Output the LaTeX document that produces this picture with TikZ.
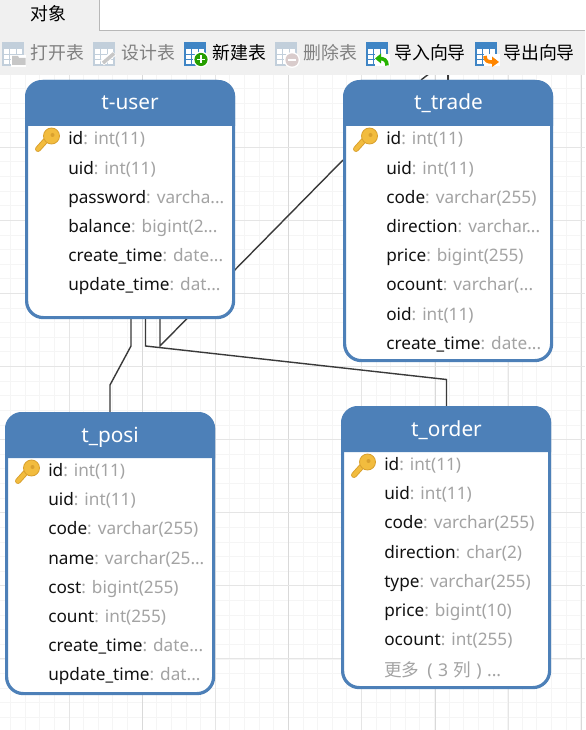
\documentclass[tikz,border=0pt]{standalone}
\usepackage{fontspec}
\setmainfont{Noto Sans}
\newfontfamily\cjk{Noto Sans CJK SC}
\usetikzlibrary{calc}
\pgfdeclarelayer{gridlayer}
\pgfdeclarelayer{connlayer}
\pgfsetlayers{gridlayer,connlayer,main}
\definecolor{hdr}{HTML}{4D80B8}
\definecolor{fieldtxt}{HTML}{111111}
\definecolor{typetxt}{HTML}{A3A3A3}
\definecolor{tool}{HTML}{F0F0F0}
\definecolor{conncol}{HTML}{3A3A3A}
\definecolor{gold}{HTML}{F2BC3E}
\definecolor{goldd}{HTML}{D9A02E}
\definecolor{iconon}{HTML}{3F85C5}
\definecolor{iconoff}{HTML}{C2CFDB}
\newcommand{\dd}{.{}.{}.}
\tikzset{
  x=0.75pt,y=-0.75pt,
  tablebox/.style={draw=hdr,line width=2.4pt,rounded corners=12.5pt,fill=white,inner sep=0pt,anchor=north west},
  headtxt/.style={text=white,font=\fontsize{15.6pt}{17pt}\selectfont,inner sep=0pt,anchor=base},
  fieldrow/.style={text=fieldtxt,font=\fontsize{12.9pt}{15pt}\selectfont,inner sep=0pt,anchor=base west},
  toollabel/.style={font=\fontsize{13.4pt}{15pt}\selectfont\cjk,inner sep=0pt,anchor=base west},
  connline/.style={draw=conncol,line width=1.05pt,line join=miter},
  minorgrid/.style={draw=black!4,line width=0.75pt},
  midgrid/.style={draw=black!10,line width=0.75pt},
  majorgrid/.style={draw=black!15,line width=0.75pt},
  pics/keyicon/.style={code={
    \draw[goldd,line width=4.4pt,line cap=round] (-7,8) -- (2,-2);
    \draw[gold,line width=3pt,line cap=round] (-7,8) -- (2,-2);
    \fill[gold,draw=goldd,line width=0.6pt] (6.5,-5) circle (8);
    \fill[goldd] (7.5,-6) circle (2);
  }},
  pics/tableicon/.style={code={
    \draw[#1,line width=0.8pt,fill=white] (0,0) rectangle (20,22);
    \fill[#1] (-0.5,0) rectangle (20.5,6);
    \draw[#1,line width=0.8pt] (0,11.3) -- (20,11.3) (0,16.6) -- (20,16.6) (6.7,6) -- (6.7,22) (13.4,6) -- (13.4,22);
  }},
}
\newcommand{\fieldrows}[4]{%
  \foreach \fname/\ftype [count=\ri from 0] in {#4} {
    \node[fieldrow] (#1-\ri) at (#2,{#3+\ri*29.2}) {\fname\textcolor{typetxt}{: \ftype}};
  }%
}
\begin{document}
\begin{tikzpicture}
\useasboundingbox (0,0) rectangle (585,730);
% grid
\begin{pgfonlayer}{gridlayer}
\fill[white] (0,0) rectangle (585,730);
\foreach \gx in {0,...,40} \draw[minorgrid] ({-4+\gx*14.62},75) -- ({-4+\gx*14.62},730);
\foreach \gy in {0,...,46} \draw[minorgrid] (0,{74.2+\gy*14.62}) -- (585,{74.2+\gy*14.62});
\foreach \gx in {69,215,361.5,508} \draw[midgrid] (\gx,75) -- (\gx,730);
\foreach \gx in {142.3,288.5,435,581.5} \draw[majorgrid] (\gx,75) -- (\gx,730);
\foreach \gy in {147.3,220.4,293.5,366.6,439.7,512.8,585.9,658.6} \draw[midgrid] (0,\gy) -- (585,\gy);
\end{pgfonlayer}
% toolbar
\fill[tool] (0,30.5) rectangle (585,75);
\fill[tool] (0,0) rectangle (99,31);
\draw[black!28,line width=0.75pt] (99.4,0) -- (99.4,30.5) -- (585,30.5);
\node[toollabel,anchor=center] (tabobj) at (48.5,13.5) {对象};
% icons
\pic at (3,43) {tableicon=iconoff};
\fill[white] (11,55) rectangle (26,67);
\fill[black!22] (12,56) -- (18,56) -- (19,58) -- (25.5,58) -- (25.5,65) -- (12,65) -- cycle;
\pic at (94,43) {tableicon=iconoff};
\draw[white,line width=4.6pt] (102,63) -- (114,53);
\draw[black!22,line width=2.6pt] (103,63) -- (114,53.5);
\pic at (185,43) {tableicon=iconon};
\fill[white] (201,59.5) circle (8);
\fill[green!55!black!85!yellow] (201,59.5) circle (6.6);
\draw[white,line width=1.2pt] (197,59.5) -- (205,59.5) (201,55.5) -- (201,63.5);
\pic at (276,43) {tableicon=iconoff};
\fill[white] (292,60) circle (8);
\fill[red!25!black!20!white] (292,60) circle (6.6);
\draw[white,line width=1.2pt] (288,60) -- (296,60);
\pic at (367,43) {tableicon=iconon};
\fill[white] (375,54) rectangle (390,66);
\draw[green!65!black!85!yellow,line width=2.7pt] (387,65.5) .. controls (387,60) and (384,58.5) .. (379,58.5);
\fill[green!65!black!85!yellow] (375,58.5) -- (381,53.5) -- (381,63.5) -- cycle;
\pic at (476,43) {tableicon=iconon};
\fill[white] (484,54) rectangle (500,66);
\draw[orange!95!yellow,line width=2.7pt] (485,56) .. controls (485,61) and (488,62) .. (492,62);
\fill[orange!95!yellow] (499,62) -- (492,56.5) -- (492,67) -- cycle;
% toolbar labels
\node[toollabel,text=black!50] (topen) at (30,60) {打开表};
\node[toollabel,text=black!50] (tdes) at (121,60) {设计表};
\node[toollabel,text=black] (tnew) at (212,60) {新建表};
\node[toollabel,text=black!50] (tdel) at (303,60) {删除表};
\node[toollabel,text=black] (timp) at (394,60) {导入向导};
\node[toollabel,text=black] (texp) at (503,60) {导出向导};
% tables
\node[tablebox,minimum width=155.25pt,minimum height=177pt] (user) at (25,80) {};
\node[tablebox,minimum width=155.25pt,minimum height=209.25pt] (trade) at (343,80) {};
\node[tablebox,minimum width=155.25pt,minimum height=210pt] (posi) at (5,412) {};
\node[tablebox,minimum width=155.25pt,minimum height=210pt] (order) at (341,406) {};
% headers
\foreach \tb in {user,trade,posi,order} {
  \fill[hdr,rounded corners=12.5pt] (\tb.north west) -- (\tb.north east) [sharp corners] -- ([yshift=-34.5pt]\tb.north east) -- ([yshift=-34.5pt]\tb.north west) [rounded corners=12.5pt] -- cycle;
}
\node[headtxt] (huser) at (130,110) {t-user};
\node[headtxt] (htrade) at (448.5,110) {t\_trade};
\node[headtxt] (hposi) at (110,442) {t\_posi};
\node[headtxt] (horder) at (446.5,436) {t\_order};
% rows
\fieldrows{ru}{68}{145}{id/int(11),uid/int(11),password/varcha\dd,balance/bigint(2\dd,create\_time/date\dd,update\_time/dat\dd}
\fieldrows{rt}{386}{145}{id/int(11),uid/int(11),code/varchar(255),direction/varchar\dd,price/bigint(255),ocount/varchar(\dd,oid/int(11),create\_time/date\dd}
\fieldrows{rp}{48}{476.5}{id/int(11),uid/int(11),code/varchar(255),name/varchar(25\dd,cost/bigint(255),count/int(255),create\_time/date\dd,update\_time/dat\dd}
\fieldrows{ro}{384}{470.5}{id/int(11),uid/int(11),code/varchar(255),direction/char(2),type/varchar(255),price/bigint(10),ocount/int(255)}
\node[fieldrow,text=typetxt,font=\fontsize{13.2pt}{15pt}\selectfont] (omore) at (384,676) {{\cjk 更多}\hspace{6pt}(\hspace{4pt}3\hspace{4pt}{\cjk 列}\hspace{4pt})\hspace{4pt}\dd};
% keys
\pic at (45,141) {keyicon};
\pic at (363,141) {keyicon};
\pic at (25,473) {keyicon};
\pic at (361,467) {keyicon};
% connectors
\begin{pgfonlayer}{connlayer}
\draw[connline] (131,0 |- user.south) -- (131,346) -- (110,385) -- (110,0 |- posi.north);
\draw[connline] (145.5,0 |- user.south) -- (145.5,346) -- (446.5,379.5) -- (446.5,0 |- order.north);
\draw[connline] (160,0 |- user.south) -- (160,346) -- (0,160 -| trade.west);
\draw[connline] (448,0 |- trade.north) -- (448,60);
\draw[connline] (421,0 |- trade.north) -- (434,70);
\end{pgfonlayer}
\end{tikzpicture}
\end{document}
